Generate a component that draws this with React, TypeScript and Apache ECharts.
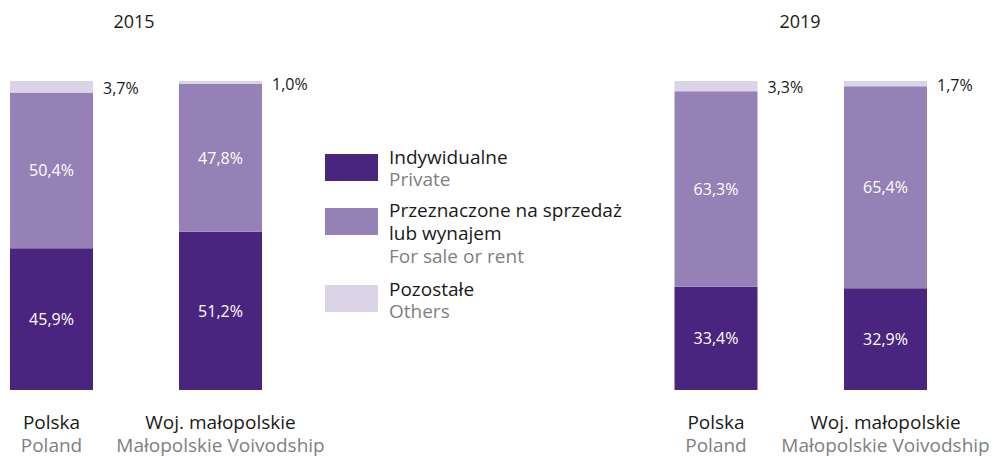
import React, { useEffect, useRef } from "react";
import * as echarts from "echarts";

const categoriesPl = ["Polska", "Woj. małopolskie"];
const categoriesEn = ["Poland", "Małopolskie Voivodship"];
const years = ["2015", "2019"];

const private2015 = [45.9, 51.2];
const forSale2015 = [50.4, 47.8];
const others2015 = [3.7, 1.0];

const private2019 = [33.4, 32.9];
const forSale2019 = [63.3, 65.4];
const others2019 = [3.3, 1.7];

const legendPl = [["Indywidualne"], ["Przeznaczone na sprzedaż", "lub wynajem"], ["Pozostałe"]];
const legendEn = ["Private", "For sale or rent", "Others"];

const COLORS = ["#4a2580", "#9581b5", "#dbd3e6"];
const FONT = "'Open Sans', 'Noto Sans', sans-serif";
const DARK = "#1a1a1a";
const GREY = "#808080";

const fmt = (v: number) => v.toFixed(1).replace(".", ",") + "%";

export default function App() {
  const ref = useRef<HTMLDivElement>(null);
  useEffect(() => {
    if (!ref.current) return;
    const chart = echarts.init(ref.current, undefined, { renderer: "svg" });

    const grids = [
      { left: 51.5, top: 81, width: 169, height: 309 },
      { left: 716, top: 81, width: 169.5, height: 309 },
    ];

    const xAxes = [0, 1].map((i) => ({
      type: "category",
      gridIndex: i,
      data: categoriesPl,
      boundaryGap: false,
      axisLine: { show: false },
      axisTick: { show: false },
      splitLine: { show: false },
      axisLabel: {
        margin: 20,
        interval: 0,
        hideOverlap: false,
        formatter: (v: string, idx: number) => `{a|${v}}\n{b|${categoriesEn[idx]}}`,
        rich: {
          a: { fontFamily: FONT, fontSize: 19, color: DARK, lineHeight: 23 },
          b: { fontFamily: FONT, fontSize: 19, color: GREY, lineHeight: 23 },
        },
      },
    }));
    const yAxes = [0, 1].map((i) => ({
      type: "value",
      gridIndex: i,
      min: 0,
      max: 100,
      show: false,
    }));

    const sets = [
      [private2015, forSale2015, others2015],
      [private2019, forSale2019, others2019],
    ];
    const series: any[] = [];
    sets.forEach((set, gi) => {
      set.forEach((data, si) => {
        series.push({
          type: "bar",
          name: legendEn[si],
          xAxisIndex: gi,
          yAxisIndex: gi,
          stack: "s" + gi,
          barWidth: 83,
          data,
          itemStyle: { color: COLORS[si] },
          label: {
            show: true,
            position: si === 2 ? "right" : "inside",
            distance: 10,
            offset: si === 2 ? [0, 1] : [0, 0],
            formatter: (p: any) => fmt(p.value),
            color: si === 2 ? DARK : "#ffffff",
            fontFamily: FONT,
            fontSize: 16,
          },
        });
      });
    });

    const legendIconY = [154, 208, 285];
    const legendPlY = [[157], [210, 233], [289]];
    const legendEnY = [179, 256, 311];
    const graphic: any[] = [
      {
        type: "text",
        style: { x: 134, y: 21, text: years[0], textAlign: "center", textVerticalAlign: "middle", fontFamily: FONT, fontSize: 18, fill: DARK },
      },
      {
        type: "text",
        style: { x: 800, y: 21, text: years[1], textAlign: "center", textVerticalAlign: "middle", fontFamily: FONT, fontSize: 18, fill: DARK },
      },
    ];
    legendPl.forEach((lines, i) => {
      graphic.push({
        type: "rect",
        shape: { x: 325, y: legendIconY[i], width: 53, height: 27 },
        style: { fill: COLORS[i] },
      });
      lines.forEach((t, j) => {
        graphic.push({
          type: "text",
          style: { x: 389, y: legendPlY[i][j], text: t, textVerticalAlign: "middle", fontFamily: FONT, fontSize: 19, fill: DARK },
        });
      });
      graphic.push({
        type: "text",
        style: { x: 389, y: legendEnY[i], text: legendEn[i], textVerticalAlign: "middle", fontFamily: FONT, fontSize: 19, fill: GREY },
      });
    });

    chart.setOption({
      animation: false,
      textStyle: { fontFamily: FONT },
      grid: grids,
      xAxis: xAxes,
      yAxis: yAxes,
      series,
      graphic,
    });
    return () => chart.dispose();
  }, []);
  return <div ref={ref} style={{ width: 993, height: 456, position: "absolute", left: 0, top: 0 }} />;
}
